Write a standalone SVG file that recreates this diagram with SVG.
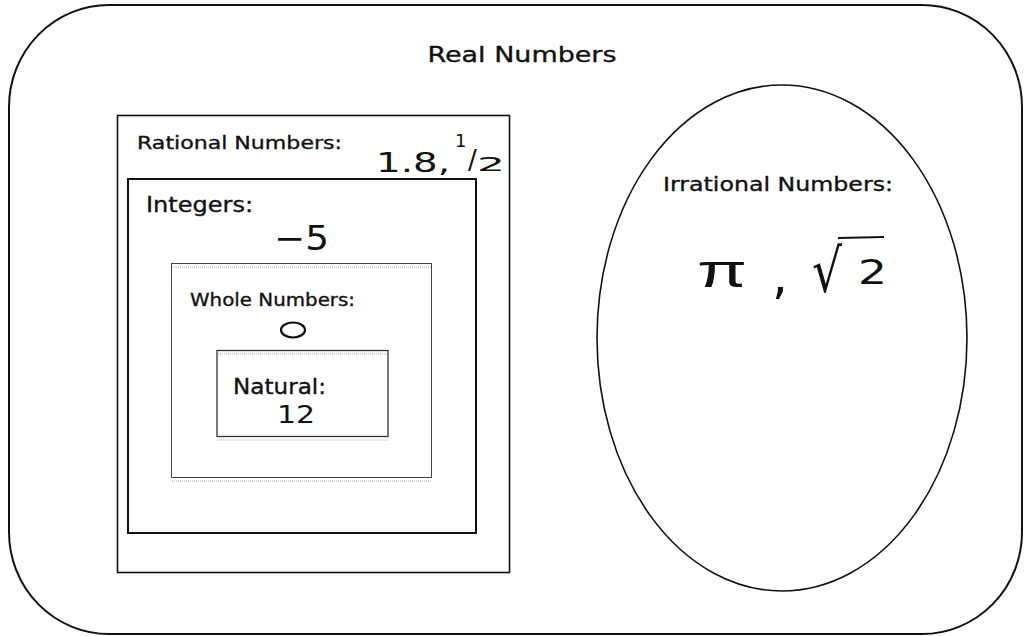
<svg xmlns="http://www.w3.org/2000/svg" width="1024" height="636" viewBox="0 0 1024 636">
<style>
.lbl{font-family:"DejaVu Sans","Liberation Sans",sans-serif;fill:#111;stroke:#111;stroke-width:0.35}
.hand{font-family:"DejaVu Sans","Liberation Sans",sans-serif;fill:#111}
.box{fill:none;stroke:#111}
.dot{fill:none;stroke:#aaa;stroke-width:1;stroke-dasharray:1 1}
</style>
<rect width="1024" height="636" fill="#fff"/>
<g id="real">
<rect class="box" x="9" y="5" width="1013" height="629" rx="100" ry="102" stroke-width="2"/>
<text class="lbl" x="522" y="62" font-size="22" text-anchor="middle" textLength="189" lengthAdjust="spacingAndGlyphs">Real Numbers</text>
</g>
<g id="rational">
<rect class="box" x="117.5" y="115.5" width="392" height="457" stroke-width="1.6"/>
<text class="lbl" x="137" y="149" font-size="18.5" textLength="205" lengthAdjust="spacingAndGlyphs">Rational Numbers:</text>
<text class="hand" x="376" y="172" font-size="27" textLength="74" lengthAdjust="spacingAndGlyphs">1.8,</text>
<text class="hand" x="455" y="147" font-size="18">1</text>
<text class="hand" x="468" y="169" font-size="26">/</text>
<text class="hand" x="477" y="171" font-size="20" textLength="28" lengthAdjust="spacingAndGlyphs">2</text>
</g>
<g id="integers">
<rect class="box" x="128" y="179" width="348" height="354" stroke-width="2"/>
<text class="lbl" x="146" y="212" font-size="21.5" textLength="107" lengthAdjust="spacingAndGlyphs">Integers:</text>
<text class="hand" x="274" y="250" font-size="34" textLength="55" lengthAdjust="spacingAndGlyphs">−5</text>
</g>
<g id="whole">
<rect x="171.5" y="263.5" width="260" height="214" fill="none" stroke="#444" stroke-width="1"/>
<line class="dot" x1="172" y1="267" x2="431" y2="267"/>
<line class="dot" x1="172" y1="481" x2="431" y2="481"/>
<text class="lbl" x="190" y="306" font-size="18" textLength="165" lengthAdjust="spacingAndGlyphs">Whole Numbers:</text>
<ellipse cx="293" cy="330" rx="12" ry="7.5" fill="none" stroke="#111" stroke-width="2.2"/>
</g>
<g id="natural">
<rect x="217" y="350.5" width="171" height="86" fill="none" stroke="#333" stroke-width="1.3"/>
<line class="dot" x1="218" y1="354" x2="387" y2="354"/>
<line class="dot" x1="217" y1="440" x2="388" y2="440"/>
<text class="lbl" x="233" y="394" font-size="21" textLength="93" lengthAdjust="spacingAndGlyphs">Natural:</text>
<text class="hand" x="277" y="423" font-size="24" textLength="38" lengthAdjust="spacingAndGlyphs">12</text>
</g>
<g id="irrational">
<ellipse class="box" cx="782" cy="338" rx="185" ry="253" stroke-width="1.6"/>
<text class="lbl" x="663" y="191" font-size="20" textLength="230" lengthAdjust="spacingAndGlyphs">Irrational Numbers:</text>
<text x="697" y="287" font-family="Liberation Sans, sans-serif" font-size="46" fill="#111" textLength="50" lengthAdjust="spacingAndGlyphs">π</text>
<text class="hand" x="772" y="293" font-size="50">,</text>
<text class="hand" x="812" y="292" font-size="60" textLength="30" lengthAdjust="spacingAndGlyphs">√</text>
<line x1="838" y1="238" x2="884" y2="237" stroke="#111" stroke-width="2.2"/>
<text class="hand" x="858" y="284" font-size="34" textLength="29" lengthAdjust="spacingAndGlyphs">2</text>
</g>
<g id="connectors"/>
</svg>
